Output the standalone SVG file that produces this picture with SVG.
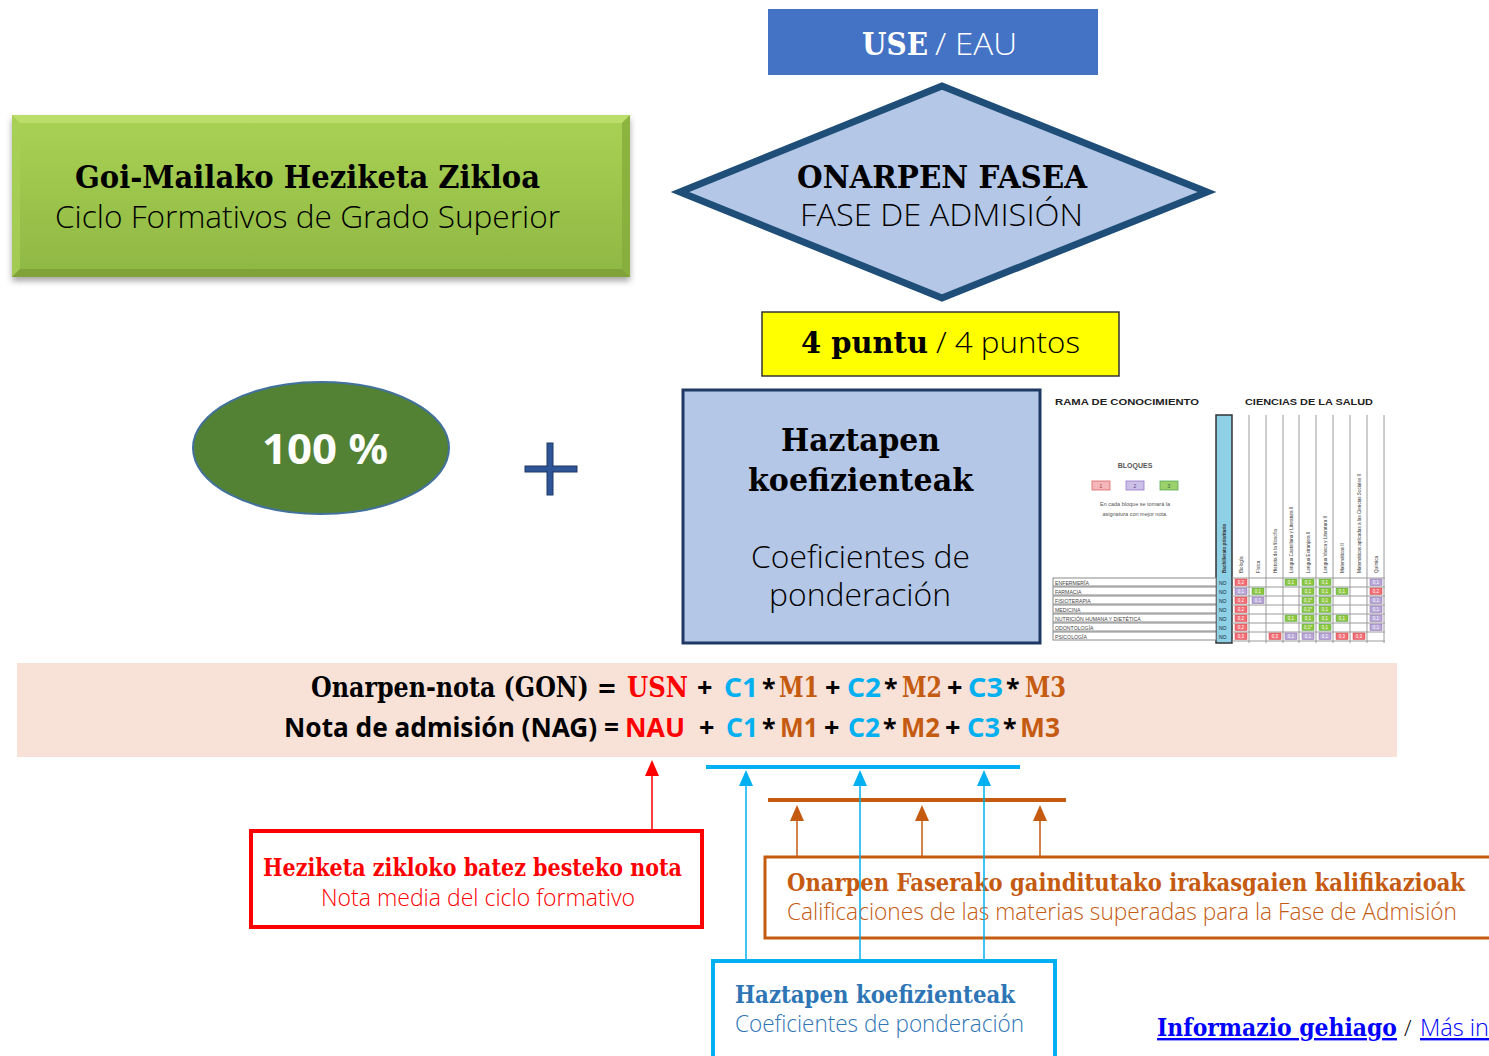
<svg xmlns="http://www.w3.org/2000/svg" width="1489" height="1056" viewBox="0 0 1489 1056">
<style>
.slab{font-family:"DejaVu Serif","Liberation Serif",serif;font-weight:bold}
.lt{font-family:"Open Sans","Noto Sans","Liberation Sans",sans-serif;font-weight:300}
.sb{font-family:"Noto Sans","Open Sans","Liberation Sans",sans-serif;font-weight:bold}
.tb{font-family:"Liberation Sans",sans-serif}
.cy{fill:#00B0F0}.or{fill:#C55A11}.rd{fill:#FF0000}.bk{fill:#000}
.vl{stroke:#9a9a9a;stroke-width:1}
.rl{fill:#fff;stroke:#8a8a8a;stroke-width:1}
.cr{fill:#F26D75;stroke:#c44;stroke-width:0.5}
.cp{fill:#B7A8D8;stroke:#86a;stroke-width:0.5}
.cg{fill:#8CC63E;stroke:#5a5;stroke-width:0.5}
.ct{font-family:"Liberation Sans",sans-serif;font-size:4.5px;fill:#fff;text-anchor:middle}
.hl{font-family:"Liberation Sans",sans-serif;font-size:4.6px;fill:#333}
.rw{font-family:"Liberation Sans",sans-serif;font-size:5.2px;fill:#444}
</style>
<defs>
<linearGradient id="gg" x1="0" y1="0" x2="0" y2="1">
<stop offset="0" stop-color="#A9D254"/><stop offset="1" stop-color="#8FB744"/>
</linearGradient>
<filter id="sh" x="-5%" y="-10%" width="110%" height="130%">
<feDropShadow dx="0" dy="4" stdDeviation="3" flood-color="#000" flood-opacity="0.35"/>
</filter>
</defs>

<g id="use-eau">
<rect x="768" y="9" width="330" height="66" fill="#4472C4"/>
<text x="862" y="55" class="slab" font-size="31" fill="#fff" textLength="66" lengthAdjust="spacingAndGlyphs">USE</text>
<text x="935" y="55" class="lt" font-size="32" fill="#fff" textLength="82" lengthAdjust="spacingAndGlyphs">/ EAU</text>
</g>

<g id="fase-admision">
<polygon points="680,192 942,86 1207,192 942,298" fill="#B4C7E7" stroke="#1F4E79" stroke-width="7" stroke-linejoin="miter"/>
<text x="797" y="188" class="slab" font-size="31" fill="#000" textLength="290" lengthAdjust="spacingAndGlyphs">ONARPEN FASEA</text>
<text x="800" y="226" class="lt" font-size="32" fill="#000" textLength="283" lengthAdjust="spacingAndGlyphs">FASE DE ADMISIÓN</text>
</g>

<g id="ciclo-formativo">
<g filter="url(#sh)">
<rect x="12" y="115" width="618" height="162" fill="url(#gg)"/>
</g>
<polygon points="12,115 630,115 622,123 20,123" fill="#BFE070" opacity="0.8"/>
<polygon points="12,115 20,123 20,269 12,277" fill="#A8CF58" opacity="0.8"/>
<polygon points="630,115 630,277 622,269 622,123" fill="#86AC3C" opacity="0.8"/>
<polygon points="12,277 20,269 622,269 630,277" fill="#7A9E35" opacity="0.8"/>
<text x="75" y="188" class="slab" font-size="31" fill="#000" textLength="465" lengthAdjust="spacingAndGlyphs">Goi-Mailako Heziketa Zikloa</text>
<text x="55" y="228" class="lt" font-size="32" fill="#000" textLength="505" lengthAdjust="spacingAndGlyphs">Ciclo Formativos de Grado Superior</text>
</g>

<g id="puntos">
<rect x="762" y="312" width="357" height="64" fill="#FFFF00" stroke="#333" stroke-width="1.5"/>
<text x="801" y="353" class="slab" font-size="30" fill="#000" textLength="127" lengthAdjust="spacingAndGlyphs">4 puntu</text>
<text x="936" y="353" class="lt" font-size="30" fill="#000" textLength="144" lengthAdjust="spacingAndGlyphs">/ 4 puntos</text>
</g>

<g id="cien-por-cien">
<ellipse cx="321" cy="448" rx="128" ry="66" fill="#548235" stroke="#41719C" stroke-width="2"/>
<text x="262" y="464" class="sb" font-size="42" fill="#fff" textLength="126" lengthAdjust="spacingAndGlyphs">100 %</text>
</g>

<g id="plus">
<rect x="525" y="466" width="52" height="6" fill="#2E5597" stroke="#1F3864" stroke-width="1"/>
<rect x="547" y="443" width="6" height="52" fill="#2E5597" stroke="#1F3864" stroke-width="1"/>
<rect x="526" y="467" width="50" height="4" fill="#2E5597"/>
</g>

<g id="haztapen-koefizienteak">
<rect x="683" y="390" width="357" height="253" fill="#B4C7E7" stroke="#1F3864" stroke-width="3"/>
<text x="781" y="451" class="slab" font-size="32" fill="#000" textLength="159" lengthAdjust="spacingAndGlyphs">Haztapen</text>
<text x="748" y="491" class="slab" font-size="32" fill="#000" textLength="225" lengthAdjust="spacingAndGlyphs">koefizienteak</text>
<text x="751" y="568" class="lt" font-size="32" fill="#000" textLength="219" lengthAdjust="spacingAndGlyphs">Coeficientes de</text>
<text x="769" y="606" class="lt" font-size="32" fill="#000" textLength="182" lengthAdjust="spacingAndGlyphs">ponderación</text>
</g>

<g id="tabla-coeficientes">
<text x="1055" y="405" class="tb" font-size="8.5" font-weight="bold" fill="#222" textLength="144" lengthAdjust="spacingAndGlyphs">RAMA DE CONOCIMIENTO</text>
<text x="1245" y="405" class="tb" font-size="8.5" font-weight="bold" fill="#222" textLength="128" lengthAdjust="spacingAndGlyphs">CIENCIAS DE LA SALUD</text>
<text x="1135" y="468" class="tb" font-size="7" font-weight="bold" fill="#555" text-anchor="middle">BLOQUES</text>
<rect x="1092" y="481" width="18" height="9" fill="#F4B6BB" stroke="#d66" stroke-width="0.8"/>
<rect x="1126" y="481" width="18" height="9" fill="#CBC0E6" stroke="#97c" stroke-width="0.8"/>
<rect x="1160" y="481" width="18" height="9" fill="#9BD06B" stroke="#5a5" stroke-width="0.8"/>
<text x="1101" y="488" class="tb" font-size="5" fill="#a33" text-anchor="middle">1</text>
<text x="1135" y="488" class="tb" font-size="5" fill="#649" text-anchor="middle">2</text>
<text x="1169" y="488" class="tb" font-size="5" fill="#363" text-anchor="middle">3</text>
<text x="1135" y="506" class="tb" font-size="5.5" fill="#555" text-anchor="middle">En cada bloque se tomará la</text>
<text x="1135" y="516" class="tb" font-size="5.5" fill="#555" text-anchor="middle">asignatura con mejor nota.</text>
<rect x="1216" y="415" width="16" height="228" fill="#8ED0E6" stroke="#333" stroke-width="1.5"/>
<g>
<line x1="1249" y1="415" x2="1249" y2="643" class="vl"/>
<line x1="1266" y1="415" x2="1266" y2="643" class="vl"/>
<line x1="1283" y1="415" x2="1283" y2="643" class="vl"/>
<line x1="1299" y1="415" x2="1299" y2="643" class="vl"/>
<line x1="1316" y1="415" x2="1316" y2="643" class="vl"/>
<line x1="1333" y1="415" x2="1333" y2="643" class="vl"/>
<line x1="1350" y1="415" x2="1350" y2="643" class="vl"/>
<line x1="1367" y1="415" x2="1367" y2="643" class="vl"/>
<line x1="1384" y1="415" x2="1384" y2="643" class="vl"/>
</g>
<text transform="translate(1226,573) rotate(-90)" class="hl" font-weight="bold" fill="#111">Bachillerato prioritario</text>
<text transform="translate(1243,573) rotate(-90)" class="hl">Biología</text>
<text transform="translate(1260,573) rotate(-90)" class="hl">Física</text>
<text transform="translate(1277,573) rotate(-90)" class="hl">Historia de la filosofía</text>
<text transform="translate(1293,573) rotate(-90)" class="hl">Lengua Castellana y Literatura II</text>
<text transform="translate(1310,573) rotate(-90)" class="hl">Lengua Extranjera II</text>
<text transform="translate(1327,573) rotate(-90)" class="hl">Lengua Vasca y Literatura II</text>
<text transform="translate(1344,573) rotate(-90)" class="hl">Matemáticas II</text>
<text transform="translate(1361,573) rotate(-90)" class="hl">Matemáticas aplicadas a las Ciencias Sociales II</text>
<text transform="translate(1378,573) rotate(-90)" class="hl">Química</text>
<g>
<rect x="1053" y="578" width="163" height="8" class="rl"/>
<rect x="1053" y="587" width="163" height="8" class="rl"/>
<rect x="1053" y="596" width="163" height="8" class="rl"/>
<rect x="1053" y="605" width="163" height="8" class="rl"/>
<rect x="1053" y="614" width="163" height="8" class="rl"/>
<rect x="1053" y="623" width="163" height="8" class="rl"/>
<rect x="1053" y="632" width="163" height="8" class="rl"/>
<line x1="1232" y1="578" x2="1385" y2="578" class="vl"/>
<line x1="1232" y1="587" x2="1385" y2="587" class="vl"/>
<line x1="1232" y1="596" x2="1385" y2="596" class="vl"/>
<line x1="1232" y1="605" x2="1385" y2="605" class="vl"/>
<line x1="1232" y1="614" x2="1385" y2="614" class="vl"/>
<line x1="1232" y1="623" x2="1385" y2="623" class="vl"/>
<line x1="1232" y1="632" x2="1385" y2="632" class="vl"/>
<line x1="1232" y1="641" x2="1385" y2="641" class="vl"/>
</g>
<text x="1055" y="584.5" class="rw">ENFERMERÍA</text>
<text x="1055" y="593.5" class="rw">FARMACIA</text>
<text x="1055" y="602.5" class="rw">FISIOTERAPIA</text>
<text x="1055" y="611.5" class="rw">MEDICINA</text>
<text x="1055" y="620.5" class="rw">NUTRICIÓN HUMANA Y DIETÉTICA</text>
<text x="1055" y="629.5" class="rw">ODONTOLOGÍA</text>
<text x="1055" y="638.5" class="rw">PSICOLOGÍA</text>
<g class="tb" font-size="5" fill="#123">
<text x="1219" y="584.5">NO</text><text x="1219" y="593.5">NO</text><text x="1219" y="602.5">NO</text><text x="1219" y="611.5">NO</text><text x="1219" y="620.5">NO</text><text x="1219" y="629.5">NO</text><text x="1219" y="638.5">NO</text>
</g>
<g>
<rect x="1235" y="579" width="12" height="6.5" class="cr"/><text x="1241" y="584" class="ct">0,2</text>
<rect x="1285" y="579" width="12" height="6.5" class="cg"/><text x="1291" y="584" class="ct">0,1</text>
<rect x="1302" y="579" width="12" height="6.5" class="cg"/><text x="1308" y="584" class="ct">0,1</text>
<rect x="1319" y="579" width="12" height="6.5" class="cg"/><text x="1325" y="584" class="ct">0,1</text>
<rect x="1370" y="579" width="12" height="6.5" class="cp"/><text x="1376" y="584" class="ct">0,1</text>
<rect x="1235" y="588" width="12" height="6.5" class="cp"/><text x="1241" y="593" class="ct">0,1</text>
<rect x="1252" y="588" width="12" height="6.5" class="cg"/><text x="1258" y="593" class="ct">0,1</text>
<rect x="1302" y="588" width="12" height="6.5" class="cg"/><text x="1308" y="593" class="ct">0,1</text>
<rect x="1319" y="588" width="12" height="6.5" class="cg"/><text x="1325" y="593" class="ct">0,1</text>
<rect x="1336" y="588" width="12" height="6.5" class="cg"/><text x="1342" y="593" class="ct">0,1</text>
<rect x="1370" y="588" width="12" height="6.5" class="cr"/><text x="1376" y="593" class="ct">0,2</text>
<rect x="1235" y="597" width="12" height="6.5" class="cr"/><text x="1241" y="602" class="ct">0,2</text>
<rect x="1252" y="597" width="12" height="6.5" class="cp"/><text x="1258" y="602" class="ct">0,1</text>
<rect x="1302" y="597" width="12" height="6.5" class="cg"/><text x="1308" y="602" class="ct">0,1*</text>
<rect x="1319" y="597" width="12" height="6.5" class="cg"/><text x="1325" y="602" class="ct">0,1</text>
<rect x="1370" y="597" width="12" height="6.5" class="cp"/><text x="1376" y="602" class="ct">0,1</text>
<rect x="1235" y="606" width="12" height="6.5" class="cr"/><text x="1241" y="611" class="ct">0,2</text>
<rect x="1302" y="606" width="12" height="6.5" class="cg"/><text x="1308" y="611" class="ct">0,1*</text>
<rect x="1319" y="606" width="12" height="6.5" class="cg"/><text x="1325" y="611" class="ct">0,1</text>
<rect x="1370" y="606" width="12" height="6.5" class="cp"/><text x="1376" y="611" class="ct">0,1</text>
<rect x="1235" y="615" width="12" height="6.5" class="cr"/><text x="1241" y="620" class="ct">0,2</text>
<rect x="1285" y="615" width="12" height="6.5" class="cg"/><text x="1291" y="620" class="ct">0,1</text>
<rect x="1302" y="615" width="12" height="6.5" class="cg"/><text x="1308" y="620" class="ct">0,1</text>
<rect x="1319" y="615" width="12" height="6.5" class="cg"/><text x="1325" y="620" class="ct">0,1</text>
<rect x="1336" y="615" width="12" height="6.5" class="cg"/><text x="1342" y="620" class="ct">0,1</text>
<rect x="1370" y="615" width="12" height="6.5" class="cp"/><text x="1376" y="620" class="ct">0,1</text>
<rect x="1235" y="624" width="12" height="6.5" class="cr"/><text x="1241" y="629" class="ct">0,2</text>
<rect x="1302" y="624" width="12" height="6.5" class="cg"/><text x="1308" y="629" class="ct">0,1*</text>
<rect x="1319" y="624" width="12" height="6.5" class="cg"/><text x="1325" y="629" class="ct">0,1</text>
<rect x="1370" y="624" width="12" height="6.5" class="cp"/><text x="1376" y="629" class="ct">0,1</text>
<rect x="1235" y="633" width="12" height="6.5" class="cr"/><text x="1241" y="638" class="ct">0,3</text>
<rect x="1269" y="633" width="12" height="6.5" class="cr"/><text x="1275" y="638" class="ct">0,3</text>
<rect x="1285" y="633" width="12" height="6.5" class="cp"/><text x="1291" y="638" class="ct">0,1</text>
<rect x="1302" y="633" width="12" height="6.5" class="cp"/><text x="1308" y="638" class="ct">0,1</text>
<rect x="1319" y="633" width="12" height="6.5" class="cp"/><text x="1325" y="638" class="ct">0,1</text>
<rect x="1336" y="633" width="12" height="6.5" class="cr"/><text x="1342" y="638" class="ct">0,3</text>
<rect x="1353" y="633" width="12" height="6.5" class="cr"/><text x="1359" y="638" class="ct">0,3</text>
</g>
</g>

<g id="formula">
<rect x="17" y="663" width="1380" height="94" fill="#F8E2D8"/>
<text y="697" font-size="27">
<tspan x="311" class="slab bk" textLength="306" lengthAdjust="spacingAndGlyphs">Onarpen-nota (GON) =</tspan>
<tspan x="627" class="slab rd" textLength="61" lengthAdjust="spacingAndGlyphs">USN</tspan>
<tspan x="697" class="sb bk">+</tspan>
<tspan x="724" class="sb cy" textLength="34" lengthAdjust="spacingAndGlyphs">C1</tspan>
<tspan x="762" class="sb bk" font-size="25">*</tspan>
<tspan x="779" class="slab or" textLength="40" lengthAdjust="spacingAndGlyphs">M1</tspan>
<tspan x="825" class="sb bk">+</tspan>
<tspan x="847" class="sb cy" textLength="34" lengthAdjust="spacingAndGlyphs">C2</tspan>
<tspan x="884" class="sb bk" font-size="25">*</tspan>
<tspan x="902" class="slab or" textLength="40" lengthAdjust="spacingAndGlyphs">M2</tspan>
<tspan x="947" class="sb bk">+</tspan>
<tspan x="968" class="sb cy" textLength="35" lengthAdjust="spacingAndGlyphs">C3</tspan>
<tspan x="1006" class="sb bk" font-size="25">*</tspan>
<tspan x="1025" class="slab or" textLength="41" lengthAdjust="spacingAndGlyphs">M3</tspan>
</text>
<text y="737" font-size="27">
<tspan x="284" class="sb bk" textLength="335" lengthAdjust="spacingAndGlyphs">Nota de admisión (NAG) =</tspan>
<tspan x="625" class="sb rd" textLength="60" lengthAdjust="spacingAndGlyphs">NAU</tspan>
<tspan x="699" class="sb bk">+</tspan>
<tspan x="726" class="sb cy" textLength="32" lengthAdjust="spacingAndGlyphs">C1</tspan>
<tspan x="762" class="sb bk" font-size="25">*</tspan>
<tspan x="780" class="sb or" textLength="38" lengthAdjust="spacingAndGlyphs">M1</tspan>
<tspan x="824" class="sb bk">+</tspan>
<tspan x="848" class="sb cy" textLength="32" lengthAdjust="spacingAndGlyphs">C2</tspan>
<tspan x="883" class="sb bk" font-size="25">*</tspan>
<tspan x="901" class="sb or" textLength="39" lengthAdjust="spacingAndGlyphs">M2</tspan>
<tspan x="945" class="sb bk">+</tspan>
<tspan x="967" class="sb cy" textLength="33" lengthAdjust="spacingAndGlyphs">C3</tspan>
<tspan x="1003" class="sb bk" font-size="25">*</tspan>
<tspan x="1020" class="sb or" textLength="40" lengthAdjust="spacingAndGlyphs">M3</tspan>
</text>
</g>

<g id="nota-media">
<rect x="251" y="831" width="451" height="96" fill="#fff" stroke="#FF0000" stroke-width="4"/>
<text x="263" y="876" class="slab" font-size="24" fill="#FF0000" textLength="419" lengthAdjust="spacingAndGlyphs">Heziketa zikloko batez besteko nota</text>
<text x="321" y="906" class="lt" font-size="24" fill="#FF0000" textLength="314" lengthAdjust="spacingAndGlyphs">Nota media del ciclo formativo</text>
</g>

<g id="calificaciones">
<rect x="765" y="857" width="730" height="81" fill="#fff" stroke="#C55A11" stroke-width="3"/>
<text x="787" y="891" class="slab" font-size="24" fill="#C55A11" textLength="678" lengthAdjust="spacingAndGlyphs">Onarpen Faserako gainditutako irakasgaien kalifikazioak</text>
<text x="787" y="920" class="lt" font-size="24" fill="#C55A11" textLength="670" lengthAdjust="spacingAndGlyphs">Calificaciones de las materias superadas para la Fase de Admisión</text>
</g>

<g id="coeficientes">
<rect x="713" y="961" width="342" height="110" fill="#fff" stroke="#00B0F0" stroke-width="4"/>
<text x="735" y="1003" class="slab" font-size="24" fill="#2E75B6" textLength="280" lengthAdjust="spacingAndGlyphs">Haztapen koefizienteak</text>
<text x="735" y="1032" class="lt" font-size="24" fill="#2E75B6" textLength="289" lengthAdjust="spacingAndGlyphs">Coeficientes de ponderación</text>
</g>

<g id="enlace">
<text x="1157" y="1036" class="slab" font-size="24" fill="#0000FF" text-decoration="underline" textLength="240" lengthAdjust="spacingAndGlyphs">Informazio gehiago</text>
<text x="1404" y="1036" class="lt" font-size="22" fill="#000">/</text>
<text x="1420" y="1036" class="lt" font-size="24" fill="#0000FF" text-decoration="underline" textLength="69" lengthAdjust="spacingAndGlyphs">Más in</text>
</g>

<g id="connectors">
<line x1="652" y1="829" x2="652" y2="776" stroke="#FF0000" stroke-width="1.5"/>
<polygon points="652,760 645,776 659,776" fill="#FF0000"/>
<line x1="706" y1="767" x2="1020" y2="767" stroke="#00B0F0" stroke-width="4"/>
<line x1="768" y1="800" x2="1066" y2="800" stroke="#C55A11" stroke-width="4"/>
<line x1="797" y1="856" x2="797" y2="820" stroke="#C55A11" stroke-width="1.5"/>
<polygon points="797,805 790,821 804,821" fill="#C55A11"/>
<line x1="922" y1="856" x2="922" y2="820" stroke="#C55A11" stroke-width="1.5"/>
<polygon points="922,805 915,821 929,821" fill="#C55A11"/>
<line x1="1040" y1="856" x2="1040" y2="820" stroke="#C55A11" stroke-width="1.5"/>
<polygon points="1040,805 1033,821 1047,821" fill="#C55A11"/>
<line x1="746" y1="959" x2="746" y2="785" stroke="#00B0F0" stroke-width="1.5"/>
<polygon points="746,770 739,786 753,786" fill="#00B0F0"/>
<line x1="860" y1="959" x2="860" y2="785" stroke="#00B0F0" stroke-width="1.5"/>
<polygon points="860,770 853,786 867,786" fill="#00B0F0"/>
<line x1="984" y1="959" x2="984" y2="785" stroke="#00B0F0" stroke-width="1.5"/>
<polygon points="984,770 977,786 991,786" fill="#00B0F0"/>
</g>
</svg>
